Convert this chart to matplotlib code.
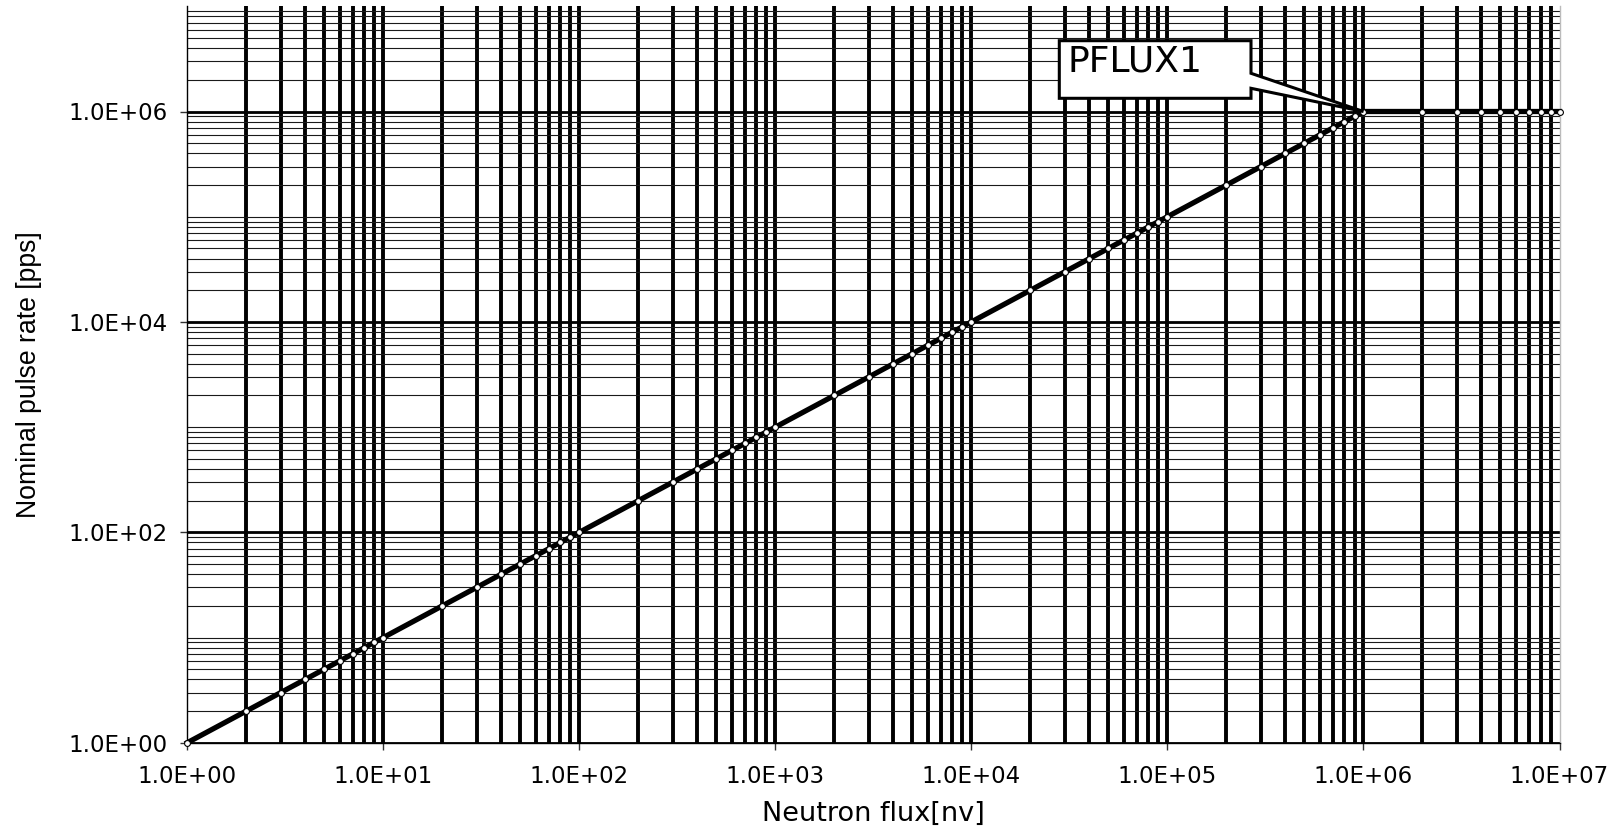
import matplotlib
matplotlib.use("Agg")
import matplotlib.pyplot as plt
from matplotlib.ticker import FixedLocator, FuncFormatter, NullFormatter
from matplotlib.patches import Polygon

# ---- data ----
flux = [1, 2, 3, 4, 5, 6, 7, 8, 9,
        1e1, 2e1, 3e1, 4e1, 5e1, 6e1, 7e1, 8e1, 9e1,
        1e2, 2e2, 3e2, 4e2, 5e2, 6e2, 7e2, 8e2, 9e2,
        1e3, 2e3, 3e3, 4e3, 5e3, 6e3, 7e3, 8e3, 9e3,
        1e4, 2e4, 3e4, 4e4, 5e4, 6e4, 7e4, 8e4, 9e4,
        1e5, 2e5, 3e5, 4e5, 5e5, 6e5, 7e5, 8e5, 9e5,
        1e6, 2e6, 3e6, 4e6, 5e6, 6e6, 7e6, 8e6, 9e6,
        1e7]
rate = [1, 2, 3, 4, 5, 6, 7, 8, 9,
        1e1, 2e1, 3e1, 4e1, 5e1, 6e1, 7e1, 8e1, 9e1,
        1e2, 2e2, 3e2, 4e2, 5e2, 6e2, 7e2, 8e2, 9e2,
        1e3, 2e3, 3e3, 4e3, 5e3, 6e3, 7e3, 8e3, 9e3,
        1e4, 2e4, 3e4, 4e4, 5e4, 6e4, 7e4, 8e4, 9e4,
        1e5, 2e5, 3e5, 4e5, 5e5, 6e5, 7e5, 8e5, 9e5,
        1e6, 1e6, 1e6, 1e6, 1e6, 1e6, 1e6, 1e6, 1e6,
        1e6]
x_ticks = [1e0, 1e1, 1e2, 1e3, 1e4, 1e5, 1e6, 1e7]
y_ticks = [1e0, 1e2, 1e4, 1e6]
annot_label = "PFLUX1"
annot_point = (1e6, 1e6)
x_label = "Neutron flux[nv]"
y_label = "Nominal pulse rate [pps]"

W, H = 1619, 834
fig = plt.figure(figsize=(W / 100, H / 100), dpi=100)
L, R, T, B = 187.3, 1559.5, 6.3, 742.7
ax = fig.add_axes([L / W, (H - B) / H, (R - L) / W, (B - T) / H])

ax.set_xscale("log")
ax.set_yscale("log")
ax.set_xlim(1, 1e7)
ax.set_ylim(1, 1e7)

# grid positions
x_minor = [k * 10 ** d for d in range(0, 7) for k in range(2, 10)] + [10 ** d for d in range(1, 7)]
y_minor = [k * 10 ** d for d in range(0, 7) for k in range(2, 10)] + [1e1, 1e3, 1e5]

ax.xaxis.remove_overlapping_locs = False
ax.xaxis.set_major_locator(FixedLocator(x_ticks))
ax.xaxis.set_minor_locator(FixedLocator(x_minor))
ax.yaxis.set_major_locator(FixedLocator(y_ticks))
ax.yaxis.set_minor_locator(FixedLocator(y_minor))
fmt = FuncFormatter(lambda v, p: f"{v:.1E}")
ax.xaxis.set_major_formatter(fmt)
ax.yaxis.set_major_formatter(fmt)
ax.xaxis.set_minor_formatter(NullFormatter())
ax.yaxis.set_minor_formatter(NullFormatter())

ax.set_axisbelow(True)
ax.grid(False)
ax.xaxis.grid(True, which="minor", color="black", linewidth=2.8)
ax.yaxis.grid(True, which="major", color="black", linewidth=2.0)
ax.yaxis.grid(True, which="minor", color="#1a1a1a", linewidth=0.8)

ax.tick_params(axis="x", which="major", direction="out", length=5.3, width=1,
               pad=11, labelsize=16.5, color="#333333")
ax.tick_params(axis="y", which="major", direction="out", length=5.3, width=1,
               pad=9, labelsize=16.5, color="#333333")
ax.tick_params(which="minor", length=0)
for lab in ax.get_xticklabels() + ax.get_yticklabels():
    lab.set_fontfamily("DejaVu Sans")

for s in ["left", "bottom"]:
    ax.spines[s].set_color("black")
    ax.spines[s].set_linewidth(1.0)
ax.spines["right"].set_color("#bbbbbb")
ax.spines["right"].set_linewidth(1.0)
ax.spines["top"].set_visible(False)

ax.plot(flux, rate, color="black", linewidth=3.8, marker="o", markersize=4.2,
        markerfacecolor="white", markeredgecolor="black", markeredgewidth=0.8,
        clip_on=False, zorder=4)

ax.set_xlabel(x_label, fontsize=19.5, family="DejaVu Sans")
ax.xaxis.set_label_coords(0.5, -(801.1 - B) / (B - T))
ax.set_ylabel(y_label, fontsize=19.2, family="Liberation Sans")
ax.yaxis.set_label_coords((42.4 - L) / (R - L), 0.5)

# callout box
tip_disp = ax.transData.transform(annot_point)
tip = fig.transFigure.inverted().transform(tip_disp)
def fpt(x, y):
    return (x / W, (H - y) / H)
bl, br, bt, bb = 1059.3, 1251.0, 40.7, 98.3
verts = [fpt(bl, bt), fpt(br, bt), fpt(br, 73.3), tuple(tip), fpt(br, 88.3),
         fpt(br, bb), fpt(bl, bb)]
poly = Polygon(verts, closed=True, facecolor="white", edgecolor="black",
               linewidth=2.2, joinstyle="miter", transform=fig.transFigure,
               clip_on=False, zorder=6)
ax.add_patch(poly)
fig.text(1067.0 / W, (H - 71.7) / H, annot_label, fontsize=26, family="DejaVu Sans",
         ha="left", va="baseline", zorder=7)

fig.savefig("out.png", dpi=100, facecolor="white")
